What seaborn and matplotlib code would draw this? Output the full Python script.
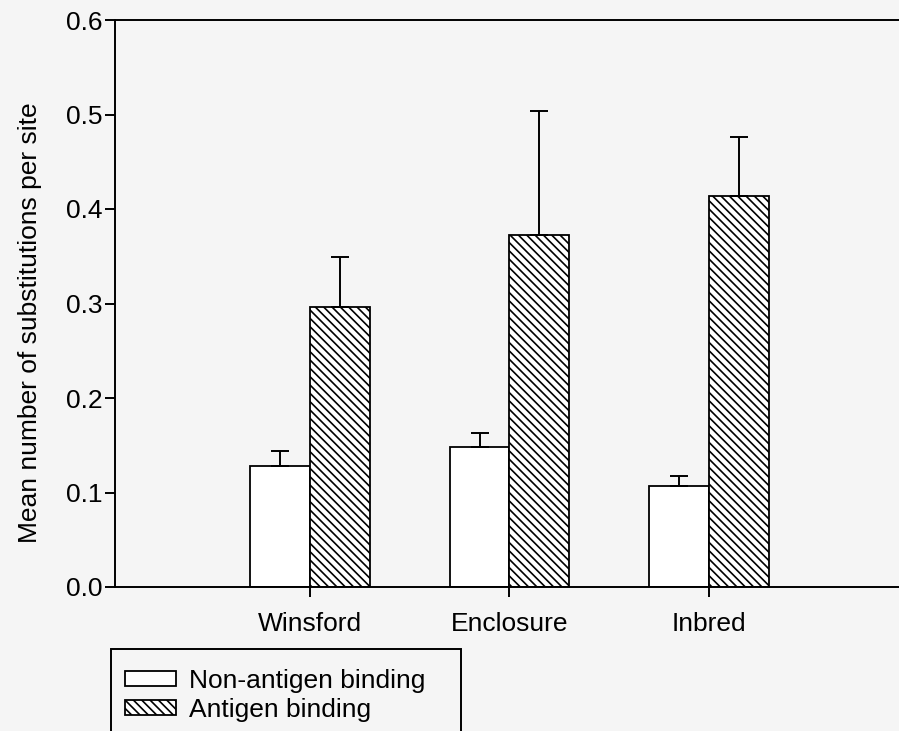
import numpy as np
import pandas as pd
import matplotlib
matplotlib.use("Agg")
import matplotlib.pyplot as plt
from matplotlib.patches import Patch, Rectangle
import seaborn as sns

# ---- data ----
sites = ["Winsford", "Enclosure", "Inbred"]
groups = ["Non-antigen binding", "Antigen binding"]
non_antigen = [0.128, 0.148, 0.107]
non_antigen_err = [0.016, 0.015, 0.010]
antigen = [0.296, 0.372, 0.414]
antigen_err = [0.053, 0.132, 0.062]
y_ticks = [0.0, 0.1, 0.2, 0.3, 0.4, 0.5, 0.6]
y_label = "Mean number of substitutions per site"

df = pd.DataFrame({
    "site": sites * 2,
    "group": [groups[0]] * 3 + [groups[1]] * 3,
    "value": non_antigen + antigen,
})
errs = [non_antigen_err, antigen_err]

sns.set_theme(style="ticks")
plt.rcParams["font.family"] = ["Liberation Sans", "DejaVu Sans"]
plt.rcParams["hatch.color"] = "black"
plt.rcParams["hatch.linewidth"] = 1.2
plt.rcParams["text.color"] = "black"
plt.rcParams["axes.labelcolor"] = "black"
plt.rcParams["xtick.color"] = "black"
plt.rcParams["ytick.color"] = "black"

FS = 19
BG = "#f5f5f5"
fig = plt.figure(figsize=(8.99, 7.31), dpi=100, facecolor=BG)
W, H = 899, 731
ax = fig.add_axes([115 / W, (H - 587) / H, (W - 115) / W, (587 - 20) / H])
ax.set_facecolor(BG)

sns.barplot(data=df, x="site", y="value", hue="group", order=sites, hue_order=groups,
            palette=["white", "white"], edgecolor="black", linewidth=1.3,
            width=0.6, errorbar=None, legend=False, ax=ax, saturation=1)

for bar in ax.containers[1]:
    bar.set_hatch("\\\\\\\\")

for cont, e in zip(ax.containers, errs):
    xs = [b.get_x() + b.get_width() / 2 for b in cont]
    hs = [b.get_height() for b in cont]
    ax.errorbar(xs, hs, yerr=[np.zeros(len(e)), e], fmt="none", ecolor="black",
                elinewidth=1.4, capsize=6.5, capthick=1.4, zorder=1)

ax.set_xlim(-0.977, 2.952)
ax.set_ylim(0, 0.6)
ax.set_yticks(y_ticks)
ax.set_yticklabels([f"{t:.1f}" for t in y_ticks])
ax.set_xlabel("")
ax.set_ylabel(y_label, fontsize=FS, color="black")
ax.yaxis.set_label_coords(-0.093, 0.466)

for s in ["left", "bottom", "top"]:
    ax.spines[s].set_visible(True)
    ax.spines[s].set_linewidth(1.4)
    ax.spines[s].set_color("black")
ax.spines["right"].set_visible(False)
ax.tick_params(axis="both", labelsize=FS, width=1.4, length=7, color="black",
               labelcolor="black", direction="out")
ax.tick_params(axis="y", pad=2)
ax.tick_params(axis="x", pad=11)

handles = [Patch(facecolor="white", edgecolor="black", linewidth=1.3),
           Patch(facecolor="white", edgecolor="black", linewidth=1.3, hatch="\\\\\\\\")]
fig.legend(handles, groups, loc="upper left", bbox_to_anchor=(125 / W, 1 - 669 / H),
           frameon=False, fontsize=FS, borderpad=0, borderaxespad=0,
           handlelength=1.93, handleheight=0.5, handletextpad=0.49, labelspacing=0.18)
fig.add_artist(Rectangle((111 / W, -0.05), (461 - 111) / W, (H - 649) / H + 0.05,
                         transform=fig.transFigure, fill=False, edgecolor="black",
                         linewidth=1.4, clip_on=False))

fig.savefig("out.png", dpi=100, facecolor=BG)
